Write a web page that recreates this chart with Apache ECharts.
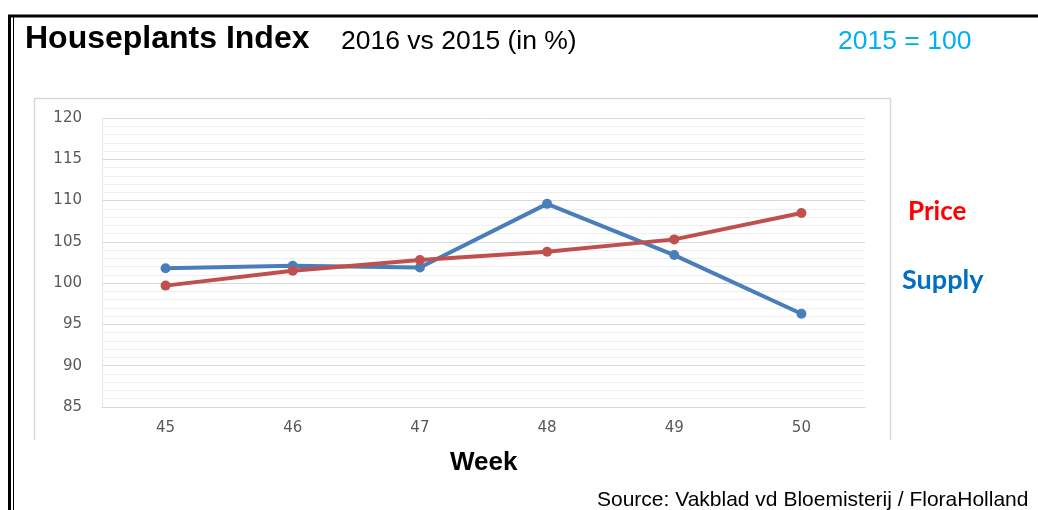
<!DOCTYPE html>
<html>
<head>
<meta charset="utf-8">
<script src="https://cdn.jsdelivr.net/npm/echarts@6/dist/echarts.min.js"></script>
<style>
  html, body { margin: 0; padding: 0; background: #fff; }
  #main { width: 1038px; height: 510px; }
</style>
</head>
<body>
<div id="main"></div>
<script>
// 周次和两条指数线
var weeks = ['45', '46', '47', '48', '49', '50'];
var supply = [101.8, 102.1, 101.9, 109.6, 103.4, 96.3];
var price = [99.7, 101.5, 102.8, 103.8, 105.3, 108.5];

var chart = echarts.init(document.getElementById('main'), null, { renderer: 'canvas' });

var option = {
    animation: false,
    backgroundColor: '#ffffff',
    grid: { left: 102, right: 173, top: 118, bottom: 103 },
    xAxis: {
        type: 'category',
        data: weeks,
        boundaryGap: true,
        axisLine: { lineStyle: { color: '#d9d9d9', width: 1 } },
        axisTick: { show: false },
        axisLabel: { color: '#595959', fontSize: 15, fontFamily: 'DejaVu Sans', margin: 14 }
    },
    yAxis: {
        type: 'value',
        min: 85, max: 120, interval: 5,
        axisLine: { show: true, lineStyle: { color: '#e6e6e6' } },
        axisTick: { show: false },
        axisLabel: { color: '#595959', fontSize: 15, fontFamily: 'DejaVu Sans', margin: 20 },
        splitLine: { lineStyle: { color: '#d9d9d9', width: 1 } },
        minorTick: { show: false, splitNumber: 5 },
        minorSplitLine: { show: true, lineStyle: { color: '#efefef', width: 1 } }
    },
    series: [
        {
            name: 'Supply', type: 'line', data: supply,
            symbol: 'circle', symbolSize: 10,
            lineStyle: { color: '#4a7ebb', width: 4 },
            itemStyle: { color: '#4a7ebb' }
        },
        {
            name: 'Price', type: 'line', data: price,
            symbol: 'circle', symbolSize: 10,
            lineStyle: { color: '#c0504d', width: 4 },
            itemStyle: { color: '#c0504d' }
        }
    ],
    graphic: [
        // 外框
        { type: 'line', shape: { x1: 9.5, y1: 16, x2: 9.5, y2: 510 }, style: { stroke: '#000', lineWidth: 3 } },
        { type: 'line', shape: { x1: 13.5, y1: 17, x2: 13.5, y2: 510 }, style: { stroke: '#000', lineWidth: 1 } },
        { type: 'line', shape: { x1: 8, y1: 16, x2: 1038, y2: 16 }, style: { stroke: '#000', lineWidth: 3 } },
        // 图表区边框
        { type: 'polyline', shape: { points: [[34.5, 440], [34.5, 98.5], [890.5, 98.5], [890.5, 440]] }, style: { stroke: '#d9d9d9', lineWidth: 1.5, fill: null } },
        // 标题
        { type: 'text', left: 25, top: 23, style: { text: 'Houseplants Index', font: 'bold 32px "Liberation Sans", Arial', fill: '#000' } },
        { type: 'text', left: 341, top: 28, style: { text: '2016 vs 2015 (in %)', font: '26.5px "Liberation Sans", Arial', fill: '#000' } },
        { type: 'text', left: 838, top: 28, style: { text: '2015 = 100', font: '26.5px "Liberation Sans", Arial', fill: '#00b0f0' } },
        { type: 'text', left: 908, top: 199, style: { text: 'Price', font: 'bold 26px Lato, "Open Sans", sans-serif', fill: '#ff0000' } },
        { type: 'text', left: 902, top: 267, style: { text: 'Supply', font: 'bold 27px Lato, "Open Sans", sans-serif', fill: '#0070c0' } },
        { type: 'text', left: 450, top: 450, style: { text: 'Week', font: 'bold 26px "Liberation Sans", Arial', fill: '#000' } },
        { type: 'text', left: 597, top: 490, style: { text: 'Source: Vakblad vd Bloemisterij / FloraHolland', font: '21px "Liberation Sans", Arial', fill: '#000' } }
    ]
};
chart.setOption(option);
</script>
</body>
</html>
